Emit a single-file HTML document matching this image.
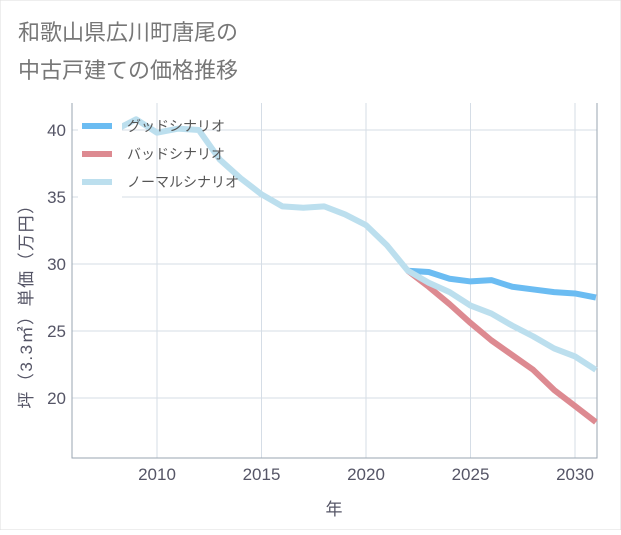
<!DOCTYPE html>
<html><head><meta charset="utf-8"><style>
body{margin:0;background:#fff;}
svg text{font-family:"Liberation Sans","Noto Sans CJK JP",sans-serif;}
</style></head><body>
<svg id="chart" width="621" height="530" xmlns="http://www.w3.org/2000/svg">
<rect x="0" y="0" width="621" height="530" fill="#fff" stroke="#ddd"/>
<text x="18" y="40" font-size="22" fill="#777">和歌山県広川町唐尾の</text>
<text x="18" y="78" font-size="22" fill="#777">中古戸建ての価格推移</text>
<g id="grid"></g>
<g id="series"></g>
<g id="legend"></g>
<text x="334" y="515" font-size="17" fill="#556" text-anchor="middle">年</text>
<text transform="translate(32,302) rotate(-90)" font-size="17" fill="#556" text-anchor="middle" letter-spacing="1.5">坪（3.3㎡）単価（万円）</text>
</svg>
<script>
const xTicks=[2010,2015,2020,2025,2030];
const yTicks=[20,25,30,35,40];
const normalYears=[2008,2009,2010,2011,2012,2013,2014,2015,2016,2017,2018,2019,2020,2021,2022,2023,2024,2025,2026,2027,2028,2029,2030,2031];
const normalValues=[40.0,40.8,39.8,40.1,40.0,37.8,36.4,35.2,34.3,34.2,34.3,33.7,32.9,31.4,29.5,28.6,27.9,26.9,26.3,25.4,24.6,23.7,23.1,22.1];
const goodYears=[2022,2023,2024,2025,2026,2027,2028,2029,2030,2031];
const goodValues=[29.5,29.4,28.9,28.7,28.8,28.3,28.1,27.9,27.8,27.5];
const badYears=[2022,2023,2024,2025,2026,2027,2028,2029,2030,2031];
const badValues=[29.5,28.3,27.0,25.6,24.3,23.2,22.1,20.6,19.4,18.2];
const seriesNames=['グッドシナリオ','バッドシナリオ','ノーマルシナリオ'];

const L=72,R=597,T=103,B=458;
const x=v=>157+(v-2010)*20.9;
const y=v=>398-(v-20)*13.4;
const NS='http://www.w3.org/2000/svg';
function mk(tag,parent){const e=document.createElementNS(NS,tag);parent.appendChild(e);return e;}
const grid=document.getElementById('grid');
xTicks.forEach(t=>{
  const l=mk('line',grid);
  
  
  l.setAttribute('x1',x(t));l.setAttribute('x2',x(t));l.setAttribute('y1',T);l.setAttribute('y2',B);
  l.setAttribute('stroke','#d5dde6');
  const tx=mk('text',grid);
  
  
  tx.setAttribute('x',x(t));tx.setAttribute('y',480);tx.setAttribute('text-anchor','middle');
  tx.setAttribute('font-size','17');tx.setAttribute('fill','#556');tx.textContent=t;
});
yTicks.forEach(t=>{
  const l=mk('line',grid);
  
  
  l.setAttribute('x1',L);l.setAttribute('x2',R);l.setAttribute('y1',y(t));l.setAttribute('y2',y(t));
  l.setAttribute('stroke','#d5dde6');
  const tx=mk('text',grid);
  
  
  tx.setAttribute('x',66);tx.setAttribute('y',y(t)+6);tx.setAttribute('text-anchor','end');
  tx.setAttribute('font-size','17');tx.setAttribute('fill','#556');tx.textContent=t;
});
const ax=mk('path',grid);


ax.setAttribute('d',`M${L},${T}V${B}H${R}V${T}`);ax.setAttribute('fill','none');ax.setAttribute('stroke','#9aa6b2');
const ser=document.getElementById('series');
function line(xs,vs,color,name){
  const p=mk('polyline',ser);
  
  
  p.setAttribute('points',xs.map((a,i)=>x(a)+','+y(vs[i])).join(' '));
  p.setAttribute('fill','none');p.setAttribute('stroke',color);p.setAttribute('stroke-width','6');
  p.setAttribute('stroke-linejoin','round');
}
line(goodYears,goodValues,'#6bbcf2','good-scenario-line');
line(badYears,badValues,'#dd8a91','bad-scenario-line');
line(normalYears,normalValues,'#bcdfee','normal-scenario-line');
const lg=document.getElementById('legend');
const colors=['#6bbcf2','#dd8a91','#bcdfee'];
const bg=mk('rect',lg);


bg.setAttribute('x',78);bg.setAttribute('y',112);bg.setAttribute('width',44);bg.setAttribute('height',86);bg.setAttribute('fill','#fff');
seriesNames.forEach((n,i)=>{
  const yy=126+i*28;
  const s=mk('line',lg);
  
  
  s.setAttribute('x1',82);s.setAttribute('x2',112);s.setAttribute('y1',yy);s.setAttribute('y2',yy);
  s.setAttribute('stroke',colors[i]);s.setAttribute('stroke-width','6');
  const t=mk('text',lg);
  
  
  t.setAttribute('x',127);t.setAttribute('y',yy+5);t.setAttribute('font-size','14');t.setAttribute('fill','#555');
  t.textContent=n;
});
</script>
</body></html>
